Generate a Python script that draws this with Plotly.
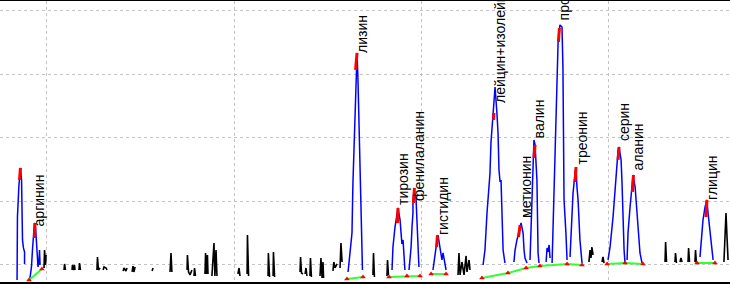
import plotly.graph_objects as go

# ---------------- data: retention time (min) / detector signal (mV) ----------------
# integrated peak traces (blue)
pk0_t = [8.40, 8.40, 8.42, 8.50, 8.58, 8.64, 8.66, 8.69, 8.74, 8.80, 8.80]
pk0_mv = [-23.6, 23.6, 75.6, 126.0, 152.8, 133.9, 78.7, 39.4, 26.8, 20.5, 1.6]
arg_t = [9.09, 9.17, 9.23, 9.28, 9.33, 9.39, 9.44, 9.48, 9.52, 9.57, 9.60, 9.63]
arg_mv = [-20.5, -3.1, 26.8, 50.4, 66.1, 58.3, 39.4, 11.0, -3.1, 4.7, 23.6, 0.0]
lys_t = [26.10, 26.15, 26.20, 26.31, 26.36, 26.47, 26.53, 26.58, 26.63, 26.69, 26.74, 26.79, 26.85, 26.87]
lys_mv = [-11.0, 4.7, 18.9, 50.4, 129.1, 223.6, 291.3, 333.9, 291.3, 223.6, 144.9, 75.6, 23.6, -7.9]
tyr_t = [28.45, 28.50, 28.61, 28.72, 28.77, 28.88, 28.93, 28.98, 29.04, 29.09, 29.14]
tyr_mv = [-7.9, 28.3, 59.8, 81.9, 89.8, 70.9, 39.4, 33.1, 39.4, 18.9, -7.9]
phe_t = [29.36, 29.47, 29.52, 29.57, 29.57, 29.63, 29.73, 29.79, 29.84, 29.89]
phe_mv = [-7.9, 28.3, 59.8, 81.9, 102.4, 118.1, 107.1, 70.9, 28.3, -3.1]
his_t = [30.64, 30.75, 30.86, 30.91, 31.02, 31.12, 31.18, 31.28, 31.34]
his_mv = [-7.9, 18.9, 39.4, 47.2, 28.3, 7.9, 18.9, 3.1, -7.9]
leu_t = [33.32, 33.42, 33.53, 33.69, 33.74, 33.85, 33.96, 34.06, 34.12, 34.17, 34.23, 34.28, 34.33, 34.39, 34.49]
leu_mv = [0.0, 23.6, 81.9, 144.9, 192.1, 233.1, 280.3, 239.4, 207.9, 149.6, 130.7, 133.9, 75.6, 23.6, 3.1]
met_t = [34.97, 35.03, 35.13, 35.24, 35.30, 35.35, 35.46, 35.51, 35.56, 35.67]
met_mv = [4.7, 23.6, 39.4, 50.4, 58.3, 66.1, 50.4, 23.6, 11.0, 3.1]
val_t = [35.83, 35.88, 35.94, 35.99, 36.04, 36.10, 36.15, 36.20, 36.23, 36.26, 36.31]
val_mv = [7.9, 47.2, 102.4, 157.5, 196.9, 189.0, 165.4, 133.9, 75.6, 18.9, 3.1]
sml_t = [36.69, 36.74, 36.79, 36.85, 36.90]
sml_mv = [4.7, 26.8, 20.5, 31.5, 11.0]
pro_t = [37.01, 37.06, 37.17, 37.27, 37.33, 37.43, 37.54, 37.59, 37.62, 37.65, 37.75, 37.81]
pro_mv = [3.1, 59.8, 154.3, 259.8, 349.6, 378.0, 374.8, 311.8, 207.9, 102.4, 50.4, 7.9]
thr_t = [37.97, 38.08, 38.13, 38.24, 38.29, 38.34, 38.40, 38.50, 38.61]
thr_mv = [12.6, 75.6, 113.4, 144.9, 154.3, 122.8, 102.4, 39.4, 3.1]
ser_t = [40.00, 40.11, 40.27, 40.38, 40.48, 40.54, 40.59, 40.70, 40.75, 40.80, 40.86, 40.91]
ser_mv = [7.9, 28.3, 75.6, 122.8, 154.3, 181.1, 185.8, 165.4, 129.1, 75.6, 23.6, 3.1]
ala_t = [41.02, 41.07, 41.18, 41.28, 41.34, 41.45, 41.55, 41.61, 41.71, 41.82]
ala_mv = [7.9, 50.4, 91.3, 122.8, 141.7, 122.8, 86.6, 50.4, 18.9, 3.1]
gly_t = [44.92, 45.03, 45.08, 45.19, 45.29, 45.35, 45.46, 45.56, 45.62]
gly_mv = [12.6, 50.4, 70.9, 91.3, 102.4, 81.9, 50.4, 28.3, 7.9]

# detected apex segments (red)
apex_t = [8.53, 8.58, None, 9.33, 9.36, None, 26.50, 26.58, None, 28.74, 28.77, None,
          29.60, 29.65, None, 30.83, 30.88, None, 33.88, 33.90, None, 35.21, 35.30, None,
          36.04, 36.10, None, 37.35, 37.40, None, 38.24, 38.29, None, 40.54, 40.59, None,
          41.31, 41.36, None, 45.24, 45.29]
apex_mv = [133.9, 152.8, None, 42.5, 66.1, None, 307.1, 333.9, None, 66.1, 89.8, None,
           97.6, 121.3, None, 28.3, 47.2, None, 228.3, 239.4, None, 44.1, 63.0, None,
           168.5, 189.0, None, 351.2, 373.2, None, 130.7, 154.3, None, 165.4, 185.8, None,
           115.0, 141.7, None, 75.6, 102.4]

# integration baselines (green) with start/end points (red)
base_t = [9.04, 9.73, None, 26.04, 26.90, None, 28.29, 29.25, 29.95, None, 30.54, 31.34, None,
          33.26, 34.65, 35.62, 36.36, 37.81, 38.61, None, 39.95, 40.91, 41.87, None, 44.76, 45.72]
base_mv = [-23.6, -6.3, None, -22.0, -18.9, None, -18.9, -17.3, -17.3, None, -14.2, -14.2, None,
           -20.5, -12.6, -4.7, -1.6, 1.6, 0.0, None, 1.6, 3.1, 1.6, None, 3.1, 3.1]

# signal outside integrated peaks (black)
noise_a_t = [9.84, 9.87, 9.92, 9.95, None, 10.91, 10.94, 10.99, None, 11.34, 11.36, 11.42, 11.47, 11.50, None,
             11.71, 11.74, 11.79, None, 12.67, 12.70, 12.75, 12.84, None, 13.00, 13.05, 13.16, 13.21, None,
             14.07, 14.12, 14.22, 14.28, None, 14.55, 14.60, 14.65, 14.71, None, 15.62, 15.67]
noise_a_mv = [-4.7, 23.6, 0.0, 15.7, None, -7.9, 1.6, -7.9, None, -7.9, 0.0, -7.9, 0.0, -7.9, None,
              -7.9, 3.1, -7.9, None, -7.9, 12.6, -7.9, -4.7, None, -7.9, -3.1, -4.7, -7.9, None,
              -9.4, -4.7, -9.4, -4.7, None, -11.0, -1.6, -11.0, -3.1, None, -9.4, -4.7]
noise_b_t = [16.58, 16.63, 16.68, None, 17.49, 17.51, 17.57, 17.65, 17.75, None, 17.86, 17.89, 17.94, None,
             18.45, 18.48, 18.53, 18.58, 18.61, None, 18.82, 18.88, 18.93, 18.98, 19.04, 19.09, None,
             20.21, 20.27, 20.32, None, 20.70, 20.72, 20.78, None, 21.82, 21.84, 21.90, None,
             22.09, 22.11, 22.17]
noise_b_mv = [-11.0, 18.9, -11.0, None, -7.9, 15.7, -11.0, -15.7, -7.9, None, -17.3, -4.7, -17.3, None,
              -14.2, 18.9, -14.2, 15.7, -14.2, None, -17.3, 26.8, 34.6, -17.3, 23.6, -17.3, None,
              -14.2, -4.7, -17.3, None, -14.2, 47.2, -17.3, None, -17.3, 18.9, -18.9, None,
              -17.3, 20.5, -18.9]
noise_c_t = [23.53, 23.56, 23.61, 23.69, None, 23.80, 23.85, 23.90, None, 24.06, 24.09, 24.14, None,
             24.60, 24.65, 24.71, 24.76, 24.79, None, 25.29, 25.34, 25.40, 25.51, None, 25.67, 25.72, 25.78, None,
             27.43, 27.46, 27.51, None, 28.18, 28.21, 28.26, None,
             31.98, 32.03, 32.09, 32.19, 32.30, 32.41, 32.46, 32.57, 32.62]
noise_c_mv = [-11.0, 12.6, -12.6, -14.2, None, -14.2, -4.7, -17.3, None, -17.3, 11.0, -18.9, None,
              -17.3, 11.0, -20.5, 4.7, -20.5, None, -9.4, 4.7, -4.7, 1.6, None, -4.7, 34.6, 4.7, None,
              -15.7, 18.9, -18.9, None, -17.3, 7.9, -15.7, None,
              -15.7, 18.9, -15.7, 4.7, -15.7, 14.2, -11.0, 7.9, -7.9]
noise_d_t = [38.98, 39.04, 39.09, 39.14, 39.20, None, 39.68, 39.73, 39.79, None, 43.05, 43.08, 43.13, None,
             43.58, 43.61, 43.66, None, 43.85, 43.90, 43.96, None, 44.28, 44.31, 44.36, None,
             44.65, 44.68, 44.73, None, 46.20, 46.26, 46.31, 46.36, 46.42]
noise_d_mv = [4.7, 23.6, 11.0, 28.3, 15.7, None, 4.7, 12.6, 3.1, None, 4.7, 36.2, 4.7, None,
              4.7, 18.9, 3.1, None, 4.7, 11.0, 4.7, None, 4.7, 26.8, 4.7, None,
              4.7, 23.6, 3.1, None, 4.7, 55.1, 81.9, 47.2, 7.9]

# peak labels
label_names = ["аргинин", "лизин", "тирозин", "фенилаланин", "гистидин", "лейцин+изолейцин",
               "метионин", "валин", "пролин", "треонин", "серин", "аланин", "глицин"]
label_rt = [9.33, 26.58, 28.77, 29.63, 30.91, 33.96, 35.35, 36.04, 37.43, 38.29, 40.59, 41.34, 45.29]
label_mv = [58.3, 330.7, 91.3, 97.6, 44.1, 252.0, 70.9, 196.9, 382.7, 154.3, 192.1, 144.9, 99.2]

# ---------------- figure ----------------
def joined(pairs):
    xs, ys = [], []
    for t, v in pairs:
        if xs:
            xs.append(None)
            ys.append(None)
        xs.extend(t)
        ys.extend(v)
    return xs, ys

noise_t, noise_mv = joined([(noise_a_t, noise_a_mv), (noise_b_t, noise_b_mv),
                            (noise_c_t, noise_c_mv), (noise_d_t, noise_d_mv)])
peak_t, peak_mv = joined([(pk0_t, pk0_mv), (arg_t, arg_mv), (lys_t, lys_mv), (tyr_t, tyr_mv),
                          (phe_t, phe_mv), (his_t, his_mv), (leu_t, leu_mv), (met_t, met_mv),
                          (val_t, val_mv), (sml_t, sml_mv), (pro_t, pro_mv), (thr_t, thr_mv),
                          (ser_t, ser_mv), (ala_t, ala_mv), (gly_t, gly_mv)])

fig = go.Figure()
fig.add_trace(go.Scatter(x=noise_t, y=noise_mv, mode="lines",
                         line=dict(color="black", width=1.6), hoverinfo="skip"))
fig.add_trace(go.Scatter(x=peak_t, y=peak_mv, mode="lines",
                         line=dict(color="#0000ff", width=1.5), hoverinfo="skip"))
fig.add_trace(go.Scatter(x=apex_t, y=apex_mv, mode="lines",
                         line=dict(color="#ff0000", width=3), hoverinfo="skip"))
fig.add_trace(go.Scatter(x=base_t, y=base_mv, mode="lines",
                         line=dict(color="#33ff33", width=2), hoverinfo="skip"))
mk_t = [t for t in base_t if t is not None]
mk_mv = [v for v in base_mv if v is not None]
fig.add_trace(go.Scatter(x=mk_t, y=mk_mv, mode="markers",
                         marker=dict(color="#ff0000", size=5, symbol="triangle-up"),
                         hoverinfo="skip"))

for name, t, v in zip(label_names, label_rt, label_mv):
    fig.add_annotation(x=t, y=v, text=name, textangle=-90, showarrow=False,
                       xanchor="center", yanchor="bottom", xshift=5,
                       font=dict(family="Liberation Sans, Arial", size=14, color="black"))

fig.update_layout(
    width=730, height=284,
    margin=dict(l=0, r=0, t=1, b=2),
    paper_bgcolor="white", plot_bgcolor="white",
    showlegend=False,
)
fig.update_xaxes(range=[7.487, 46.524], dtick=10, tick0=0, showticklabels=False, ticks="",
                 showgrid=True, gridcolor="#c4c4c4", griddash="dot", gridwidth=1,
                 zeroline=False, showline=True, linecolor="black", linewidth=2, mirror=True)
fig.update_yaxes(range=[-26.8, 415.7], dtick=100, tick0=0, showticklabels=False, ticks="",
                 showgrid=True, gridcolor="#c4c4c4", griddash="dot", gridwidth=1,
                 zeroline=False, showline=False)

fig.write_html("out.html", config={"displayModeBar": False},
               post_script="document.body.style.margin='0';document.body.style.overflow='hidden';")
